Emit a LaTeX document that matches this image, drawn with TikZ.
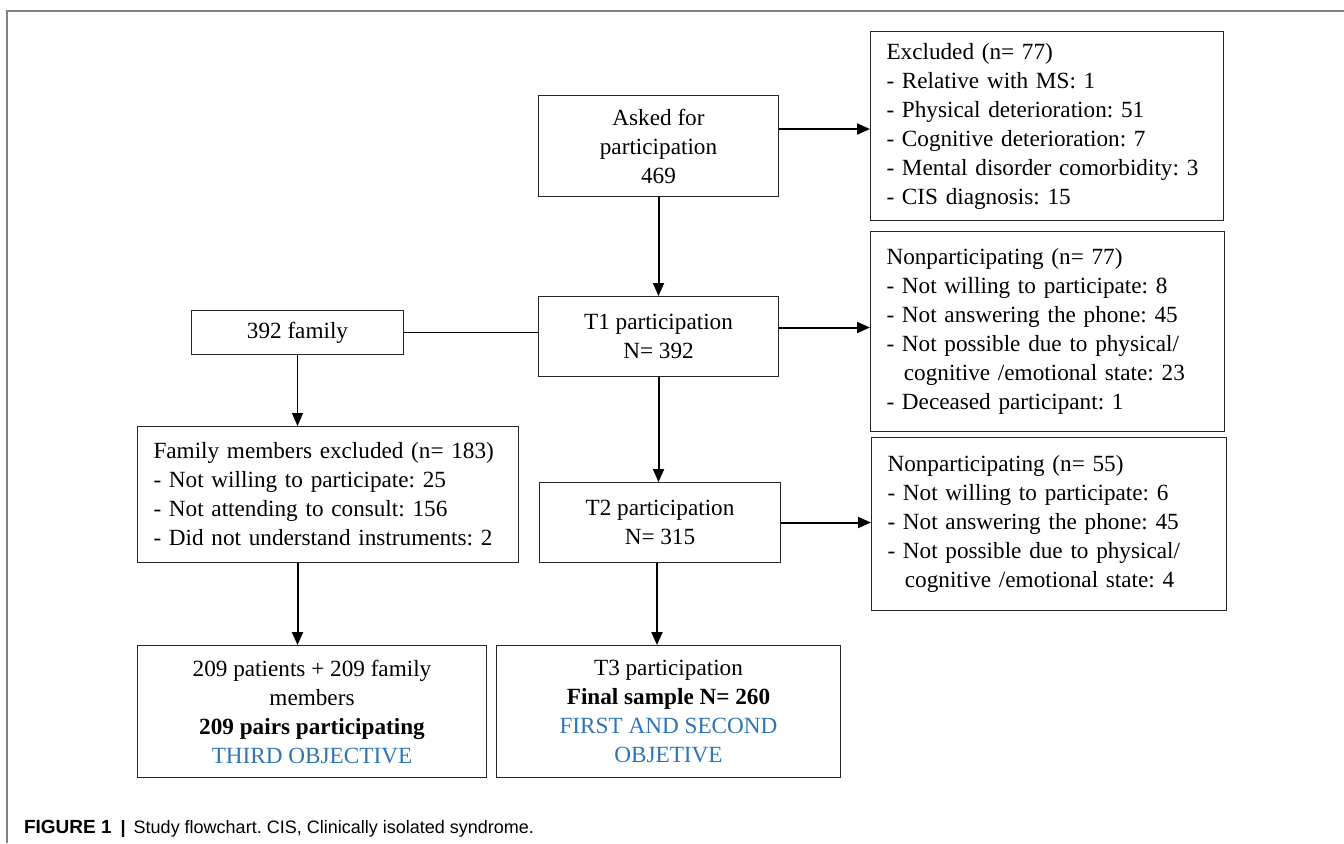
\documentclass[tikz,border=0pt]{standalone}
\usepackage{fontspec}
\setmainfont{Liberation Serif}
\setsansfont{Liberation Sans}
\usetikzlibrary{arrows.meta}
\definecolor{objblue}{RGB}{46,117,182}
\definecolor{framegray}{RGB}{130,130,130}
\frenchspacing

\begin{document}
\begin{tikzpicture}[x=0.5pt,y=-0.5pt,
    box/.style={draw=black!85, line width=0.5pt, anchor=north west, inner xsep=8pt,
        font={\fontsize{11.6}{14.5}\selectfont}},
    listbox/.style={box, align=left},
    midbox/.style={box, align=center},
    arr/.style={line width=1pt, -{Triangle[length=6.5pt,width=5.5pt]}},
    thinarr/.style={line width=0.5pt, -{Triangle[length=6.5pt,width=5.5pt]}}]
    \useasboundingbox (0,0) rectangle (1344,843);
    \draw[framegray, line width=0.6pt] (1344,11) -- (7,11) -- (7,843);

    \node[midbox, minimum width=120pt, minimum height=50.5pt] (asked) at (538,95)
        {Asked for\\participation\\469};
    \node[listbox, text width=160.5pt, minimum height=94.5pt] (excl) at (870,31)
        {Excluded (n= 77)\\- Relative with MS: 1\\- Physical deterioration: 51\\
         - Cognitive deterioration: 7\\\mbox{- Mental disorder comorbidity: 3}\\- CIS diagnosis: 15\\[-3pt]};
    \node[midbox, minimum width=120pt, minimum height=40pt] (t1) at (538,296)
        {T1 participation\\N= 392};
    \node[listbox, text width=161pt, minimum height=100pt] (np1) at (870,231)
        {Nonparticipating (n= 77)\\- Not willing to participate: 8\\- Not answering the phone: 45\\
         - Not possible due to physical/\\\hspace*{0.75em}cognitive /emotional state: 23\\
         - Deceased participant: 1};
    \node[midbox, minimum width=106pt, minimum height=22pt] (fam) at (191,310)
        {392 family};
    \node[listbox, text width=174.5pt, minimum height=68pt] (famexcl) at (137,426)
        {\mbox{Family members excluded (n= 183)}\\- Not willing to participate: 25\\
         - Not attending to consult: 156\\\mbox{- Did not understand instruments: 2}};
    \node[midbox, minimum width=120.5pt, minimum height=40pt] (t2) at (539,482)
        {T2 participation\\N= 315};
    \node[listbox, text width=161.5pt, minimum height=86.5pt] (np2) at (871,437)
        {Nonparticipating (n= 55)\\- Not willing to participate: 6\\- Not answering the phone: 45\\
         - Not possible due to physical/\\\hspace*{0.75em}cognitive /emotional state: 4\\[6pt]};
    \node[midbox, minimum width=174.5pt, minimum height=66pt] (pairs) at (137,645)
        {209 patients + 209 family\\members\\\textbf{209 pairs participating}\\
         \textcolor{objblue}{THIRD OBJECTIVE}};
    \node[midbox, minimum width=172pt, minimum height=66pt] (t3) at (496,645)
        {T3 participation\\\textbf{Final sample N= 260}\\
         \textcolor{objblue}{FIRST AND SECOND}\\\textcolor{objblue}{OBJETIVE}};

    % main flow
    \draw[arr] (asked.south) -- (t1.north);
    \draw[arr] ([yshift=8.5pt]asked.east) -- ([yshift=8.5pt]asked.east -| excl.west);
    \draw[arr] ([yshift=4.5pt]t1.east) -- ([yshift=4.5pt]t1.east -| np1.west);
    \draw[arr] (t1.south) -- (t1.south |- t2.north);
    \draw[arr] (t2.east) -- (t2.east -| np2.west);
    \draw[arr] ([xshift=-1.5pt]t2.south) -- ([xshift=-1.5pt]t2.south |- t3.north);
    % family branch
    \draw[line width=0.5pt] (fam.east) -- (fam.east -| t1.west);
    \draw[thinarr] (fam.south) -- (fam.south |- famexcl.north);
    \draw[arr] (fam.south |- famexcl.south) -- (fam.south |- pairs.north);

    \node[anchor=west, font={\sffamily\fontsize{9}{11}\selectfont}] (caption) at (17,829)
        {{\fontsize{9.5}{11}\selectfont\textbf{FIGURE 1}}\hspace{4.5pt}\textbf{|}\hspace{4pt}Study flowchart. CIS, Clinically isolated syndrome.};
\end{tikzpicture}
\end{document}
